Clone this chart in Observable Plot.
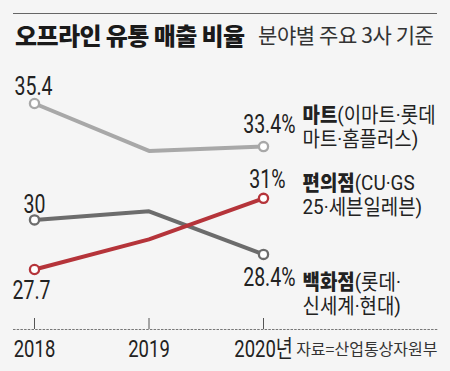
<!DOCTYPE html>
<html><head><meta charset="utf-8">
<script src="https://cdn.jsdelivr.net/npm/d3@7"></script>
<script src="https://cdn.jsdelivr.net/npm/@observablehq/plot@0.6"></script>
<style>
html,body{margin:0;padding:0;background:#f5f5f5;}
#wrap{position:relative;width:450px;height:371px;overflow:hidden;font-family:"Noto Sans CJK KR",sans-serif;}
#head{position:relative;height:56px;}
#rule{position:absolute;left:13px;top:13px;width:424px;height:1px;background:#666;}
#title{position:absolute;left:15px;top:23px;font-size:24px;font-weight:900;line-height:1;letter-spacing:-0.6px;color:#1a1a1a;white-space:nowrap}
#sub{position:absolute;left:258px;top:24px;font-size:21px;line-height:1;color:#333;white-space:nowrap;letter-spacing:-0.4px}
svg{display:block}
</style></head>
<body>
<div id="wrap">
  <div id="head"><div id="rule"></div><div id="title"></div><div id="sub"></div></div>
  <div id="chart"></div>
</div>
<script>
// ---- data ----
const title = "오프라인 유통 매출 비율";
const subtitle = "분야별 주요 3사 기준";
const source = "자료=산업통상자원부";
const years = [2018, 2019, 2020];
const tickLabels = ["2018", "2019", "2020년"];
const seriesNames = ["마트", "백화점", "편의점"];
const seriesDetails = ["(이마트·롯데\n마트·홈플러스)", "(롯데·\n신세계·현대)", "(CU·GS\n25·세븐일레븐)"];
const martValues = [35.4, 33.2, 33.4];
const deptValues = [30, 30.4, 28.4];
const convValues = [27.7, 29.1, 31];
const seriesColors = ["#a8a8a8", "#6c6c6c", "#b5343a"];

// ---- build table ----
const valueLists = [martValues, deptValues, convValues];
const rows = [];
seriesNames.forEach((name, s) => years.forEach((year, i) => rows.push({name, year, value: valueLists[s][i], detail: seriesDetails[s]})));

// label placement (pixels)
const place = {
  "마트":   {fdx: -1, fdy: -17,   ldx: 32, ldy: -22,   ndy: -42},
  "백화점": {fdx: 0,  fdy: -15,   ldx: 32, ldy: 24,    ndy: 17},
  "편의점": {fdx: -3, fdy: 21.5,  ldx: 22, ldy: -18.5, ndy: -26}
};

document.getElementById("title").textContent = title;
document.getElementById("sub").textContent = subtitle;

const W = 450, H = 315, mt = 0, mb = 42, ml = 13, mr = 13;
const frameH = H - mt - mb;
const tickLabelOf = new Map(years.map((y, i) => [y, tickLabels[i]]));

const marks = [
  Plot.frame({anchor: "bottom", stroke: "#777", strokeDasharray: "1.5,2.2"}),
  Plot.tickX(years, {x: d => d, stroke: "#555", strokeWidth: 1, insetTop: frameH - 11}),
  Plot.axisX(years, {tickSize: 0, tickPadding: 10, label: null, tickFormat: d => tickLabelOf.get(d), fontSize: 24, fill: "#222"}),
  Plot.line(rows, {x: "year", y: "value", z: "name", stroke: "name", strokeWidth: 4, strokeLinejoin: "miter"}),
  Plot.dot(rows.filter(d => d.year !== 2019), {x: "year", y: "value", r: 4.6, fill: "white", stroke: "name", strokeWidth: 2.3}),
  Plot.text([source], {text: d => d, frameAnchor: "bottom-right", dy: 20, fontSize: 16, fill: "#333", fontFamily: "'Noto Sans CJK KR'", lineAnchor: "middle"})
];
seriesNames.forEach(name => {
  const p = place[name];
  const first = rows.filter(d => d.name === name && d.year === years[0]);
  const last = rows.filter(d => d.name === name && d.year === years[years.length - 1]);
  marks.push(Plot.text(first, {x: "year", y: "value", text: d => String(d.value), dx: p.fdx, dy: p.fdy, fontSize: 25, fill: "#222", lineAnchor: "middle", className: "num"}));
  marks.push(Plot.text(last, {x: "year", y: "value", text: d => d.value + "%", dx: p.ldx, dy: p.ldy, fontSize: 25, fill: "#222", textAnchor: "end", lineAnchor: "middle", className: "num"}));
  marks.push(Plot.text(last, {x: "year", y: "value", text: d => d.name + d.detail, dx: 39, dy: p.ndy, fontSize: 21, lineHeight: 1.15, fill: "#222", textAnchor: "start", lineAnchor: "top", className: "name"}));
});

const chart = Plot.plot({
  width: W, height: H, marginTop: mt, marginBottom: mb, marginLeft: ml, marginRight: mr,
  style: {background: "#f5f5f5", fontFamily: "Roboto, 'Noto Sans CJK KR', sans-serif", overflow: "visible"},
  x: {domain: [2018, 2020], range: [34, 263], axis: null},
  y: {domain: [27.7, 35.4], range: [213, 47], axis: null},
  color: {domain: seriesNames, range: seriesColors},
  marks
});
document.getElementById("chart").appendChild(chart);

// bold series names in first line
const root = d3.select(chart);
root.selectAll("g.name text").each(function () {
  const first = this.querySelector("tspan") || this;
  const txt = first.textContent;
  const name = seriesNames.find(n => txt.startsWith(n));
  if (!name) return;
  first.textContent = "";
  const b = document.createElementNS("http://www.w3.org/2000/svg", "tspan");
  b.setAttribute("font-weight", "900");
  b.textContent = name;
  const r = document.createElementNS("http://www.w3.org/2000/svg", "tspan");
  r.textContent = txt.slice(name.length);
  first.appendChild(b); first.appendChild(r);
});

// condense text horizontally
function squeeze(sel, s) {
  root.selectAll(sel).each(function () {
    const t = this.getAttribute("transform");
    if (t) this.setAttribute("transform", t + ` scale(${s},1)`);
    else {
      const x = +this.getAttribute("x") || 0, y = +this.getAttribute("y") || 0;
      this.setAttribute("transform", `translate(${x},${y}) scale(${s},1) translate(${-x},${-y})`);
    }
  });
}
squeeze("g.num text", 0.78);
squeeze("g.name text", 0.9);
squeeze('g[aria-label="x-axis tick label"] text', 0.77);
</script>
</body></html>
